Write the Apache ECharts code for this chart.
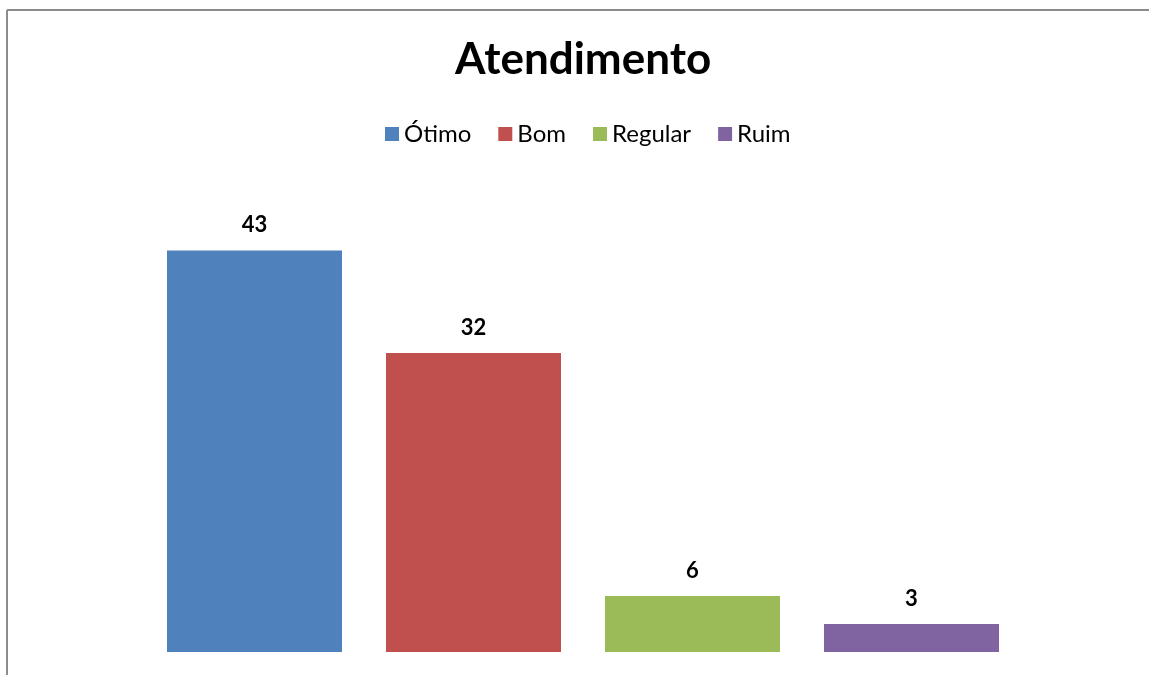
<!DOCTYPE html>
<html>
<head>
<meta charset="utf-8">
<script src="https://cdn.jsdelivr.net/npm/echarts@6/dist/echarts.min.js"></script>
<style>
  html, body { margin: 0; padding: 0; background: #fff; }
  #chart { width: 1149px; height: 675px; }
</style>
</head>
<body>
<div id="chart"></div>
<script>
// dados
var categorias = ['Ótimo', 'Bom', 'Regular', 'Ruim'];
var valores = [43, 32, 6, 3];
var cores = ['#4f81bd', '#c0504d', '#9bbb59', '#8064a2'];

var chart = echarts.init(document.getElementById('chart'));

// uma série por categoria, para a legenda
var series = categorias.map(function (nome, i) {
	var dados = categorias.map(function (c, j) { return j === i ? valores[i] : '-'; });
	return {
		name: nome,
		type: 'bar',
		stack: 'total',
		barWidth: 175,
		itemStyle: { color: cores[i] },
		label: {
			show: true,
			position: 'top',
			distance: 14,
			fontFamily: 'Lato',
			fontWeight: 'bold',
			fontSize: 22,
			color: '#000'
		},
		data: dados
	};
});

chart.setOption({
	animation: false,
	backgroundColor: '#fff',
	title: {
		text: 'Atendimento',
		left: 450,
		top: 33,
		textStyle: { fontFamily: 'Lato', fontWeight: 'bold', fontSize: 44, color: '#000' }
	},
	legend: {
		data: categorias,
		left: 380,
		top: 117,
		itemWidth: 14,
		itemHeight: 14,
		itemGap: 27,
		icon: 'rect',
		textStyle: { fontFamily: 'Lato', fontSize: 24, color: '#000' }
	},
	grid: { left: 145, right: 128, top: 185, bottom: 23 },
	xAxis: {
		type: 'category',
		data: categorias,
		axisLine: { show: false },
		axisTick: { show: false },
		axisLabel: { show: false }
	},
	yAxis: {
		type: 'value',
		min: 0,
		max: 50,
		show: false,
		splitLine: { show: false }
	},
	graphic: [
		{ type: 'line', shape: { x1: 7, y1: 10, x2: 1149, y2: 10 }, style: { stroke: '#8c8c8c', lineWidth: 2 } },
		{ type: 'line', shape: { x1: 7, y1: 10, x2: 7, y2: 675 }, style: { stroke: '#8c8c8c', lineWidth: 2 } }
	],
	series: series
});
</script>
</body>
</html>
